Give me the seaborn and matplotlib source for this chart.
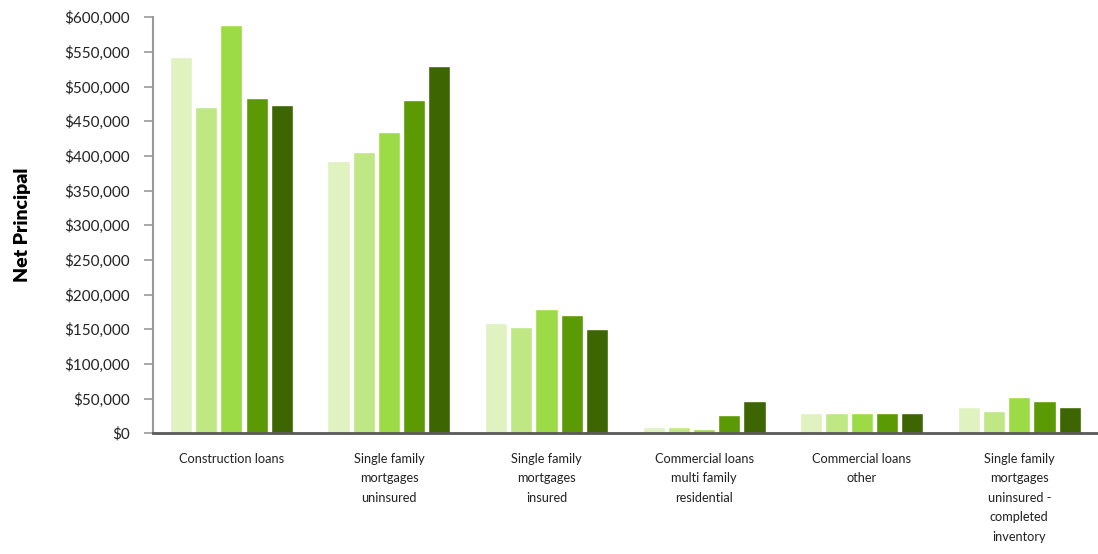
import pandas as pd
import matplotlib.pyplot as plt
import seaborn as sns
from matplotlib.ticker import FuncFormatter, MultipleLocator

sns.set_theme(style="white")
plt.rcParams['font.family'] = ['Lato', 'DejaVu Sans']

# categories and the five series
categories = [
    "Construction loans",
    "Single family\nmortgages\nuninsured",
    "Single family\nmortgages\ninsured",
    "Commercial loans\nmulti family\nresidential",
    "Commercial loans\nother",
    "Single family\nmortgages\nuninsured -\ncompleted\ninventory",
]
series_names = ["S1", "S2", "S3", "S4", "S5"]
s1 = [543000, 393000, 159000, 9000, 29000, 38000]
s2 = [471000, 405000, 153000, 9000, 29000, 32000]
s3 = [589000, 434000, 179000, 6000, 29000, 52000]
s4 = [483000, 480000, 171000, 26000, 29000, 47000]
s5 = [474000, 529000, 150000, 47000, 29000, 38000]
colors = ["#DFF2C0", "#BFE784", "#9CDB45", "#5B9A04", "#3D6602"]

rows = []
for name, vals in zip(series_names, [s1, s2, s3, s4, s5]):
    for cat, v in zip(categories, vals):
        rows.append({"category": cat, "series": name, "value": v})
df = pd.DataFrame(rows)

fig = plt.figure(figsize=(10.98, 5.54), dpi=100)
ax = fig.add_axes([0.139, 0.218, 0.861, 0.751])

sns.barplot(data=df, x="category", y="value", hue="series", palette=colors,
            width=0.8, gap=0.12, legend=False, ax=ax, saturation=1)

ax.set_ylim(0, 600000)
ax.set_xlim(-0.5, len(categories) - 0.5)
ax.yaxis.set_major_locator(MultipleLocator(50000))
ax.yaxis.set_major_formatter(FuncFormatter(lambda v, p: f"${v:,.0f}"))
ax.set_xlabel("")
ax.set_ylabel("Net Principal", fontsize=14, fontweight="heavy", color="black",
              va="center")
ax.yaxis.set_label_coords(-0.138, 0.5)

ax.tick_params(axis="y", which="major", direction="out", length=6.5, width=1.2,
               color="#999999", labelsize=11, pad=10, left=True,
               labelcolor="#222222")
ax.tick_params(axis="x", length=0, labelsize=9.2, pad=14, labelcolor="#222222")
for lab in ax.get_xticklabels():
    lab.set_linespacing(1.75)
    lab.set_verticalalignment("top")

for s in ["top", "right"]:
    ax.spines[s].set_visible(False)
ax.spines["left"].set_color("#999999")
ax.spines["left"].set_linewidth(1.5)
ax.spines["bottom"].set_color("#595959")
ax.spines["bottom"].set_linewidth(2)

fig.savefig("out.png", dpi=100)
